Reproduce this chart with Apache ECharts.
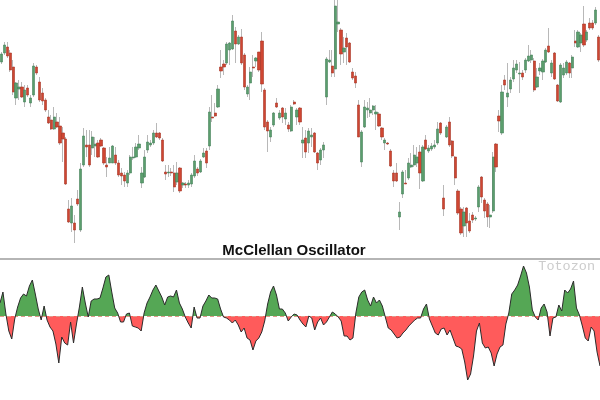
<!DOCTYPE html>
<html>
<head>
<meta charset="utf-8">
<script src="https://cdn.jsdelivr.net/npm/echarts@6/dist/echarts.min.js"></script>
<style>html,body{margin:0;padding:0;background:#fff}#c{width:600px;height:400px}</style>
</head>
<body>
<div id="c"></div>
<script>
const opens = [188,197,203,197,183,152,161,163,148,162,147,155,183,168,157,150,133,130,121,128,124,117,111,41,27,27,51,20,85,105,105,102,104,107,110,102,85,87,87,95,87,77,75,67,77,92,93,102,67,73,100,105,107,117,117,110,78,77,78,77,68,82,65,66,65,66,74,81,78,93,99,104,133,137,143,183,186,187,200,201,219,206,213,195,156,167,183,189,198,209,160,128,113,125,147,132,142,131,125,119,148,133,142,107,112,107,113,117,97,90,100,153,188,184,181,226,220,198,212,207,178,174,145,88,123,140,137,140,136,136,122,107,107,99,77,77,33,56,67,72,83,85,87,98,69,110,99,101,103,107,127,52,113,128,109,93,59,41,24,42,29,35,31,43,73,50,46,33,39,106,134,117,170,153,161,171,180,176,177,180,189,190,189,163,179,178,188,204,177,197,165,148,175,177,187,182,209,203,207,226,210,227,227,227,213];
const closes = [196,205,194,180,158,167,163,153,160,155,152,184,177,150,149,140,127,121,133,123,107,111,66,28,44,20,46,81,114,103,85,113,106,93,104,87,83,92,104,87,75,74,69,77,93,93,103,106,77,93,108,107,117,113,112,89,76,78,77,63,77,59,67,65,67,75,89,77,89,97,87,138,132,134,161,179,183,206,207,229,206,213,187,163,163,178,182,192,180,166,123,119,120,137,143,137,133,137,121,143,146,140,128,110,98,119,115,98,87,100,105,191,190,177,244,228,196,202,203,188,172,167,113,118,143,142,140,144,138,124,113,110,106,84,69,69,38,78,66,87,85,95,93,77,103,101,102,104,105,121,117,41,123,105,94,72,37,17,38,27,19,30,32,63,53,39,33,35,93,83,129,158,165,157,170,182,186,177,173,190,194,195,160,173,182,189,200,198,187,171,149,185,182,188,177,193,207,218,215,205,218,222,222,240,190];
const lows = [186,195,192,178,155,145,150,152,143,153,143,153,175,148,145,138,126,120,120,122,105,88,65,27,18,7,44,18,83,93,83,95,93,92,103,85,73,87,87,85,73,65,63,63,75,90,92,100,62,72,97,103,105,112,110,88,70,73,74,58,65,57,62,62,62,63,72,74,77,92,82,100,128,133,142,172,175,185,185,200,187,205,185,160,153,150,173,183,178,158,120,98,108,123,142,130,127,125,118,118,145,125,125,92,92,97,103,97,80,85,92,145,187,173,173,218,185,187,185,187,170,162,113,83,122,132,133,135,120,123,110,100,105,83,63,68,20,52,66,70,82,83,83,61,68,100,97,99,101,105,115,34,112,103,92,65,35,15,13,13,17,27,29,38,47,32,23,22,37,78,118,115,160,143,157,168,177,157,170,177,188,187,158,162,175,170,187,197,173,170,148,147,172,175,172,172,203,202,198,203,208,220,220,225,188];
const highs = [198,208,208,200,190,168,170,168,165,165,155,187,185,173,162,152,140,135,143,137,133,123,113,50,52,35,60,87,122,120,120,119,113,110,112,103,93,103,105,103,90,82,78,80,95,103,107,115,83,100,115,110,120,127,118,112,85,85,82,85,88,83,68,68,70,77,95,83,91,102,102,143,155,147,165,200,190,208,208,235,223,215,221,197,165,183,195,193,198,218,162,130,123,138,152,140,143,142,128,145,150,142,143,123,120,122,122,118,98,102,108,193,200,200,250,250,222,213,217,208,182,178,150,120,150,148,152,145,145,138,123,112,108,101,80,87,48,80,80,92,97,105,103,105,105,115,105,107,110,128,128,65,125,133,110,94,61,43,43,43,37,38,34,65,74,52,48,45,98,107,140,165,175,187,173,190,190,188,180,192,205,200,192,182,187,191,202,222,190,198,166,187,187,190,188,195,220,220,217,244,220,232,230,243,215];
const oscillator = [13,24,2,-15,-23,-3,9,18,22,20,30,36,22,7,-4,10,-4,-11,-15,-28,-47,-21,-27,-29,-6,-27,-8,9,29,13,-1,15,17,17,18,28,39,41,24,8,3,-6,-6,2,3,-10,-11,-12,-15,3,13,19,26,31,25,19,11,19,20,19,26,13,7,-1,-7,-12,9,-2,-2,10,15,21,18,18,17,7,-1,-2,-4,-7,-4,-9,-16,-12,-22,-24,-34,-25,-22,-16,-5,12,24,30,21,7,7,3,-5,-1,2,1,-4,-8,-11,0,-2,-14,-6,-2,-9,-6,-1,4,2,-1,-5,-20,-20,-24,-22,3,19,24,26,16,10,19,13,16,10,-1,-12,-14,-18,-22,-21,-17,-14,-10,-7,-4,-2,-2,7,12,-3,-10,-17,-19,-13,-12,-19,-14,-22,-30,-31,-33,-46,-64,-58,-40,-15,-7,-27,-32,-31,-37,-50,-38,-31,-29,-8,3,22,26,31,40,50,43,29,6,-1,-4,8,12,4,-20,-2,-1,11,5,26,23,27,35,8,1,-10,-22,-25,-11,-15,-36,-50];
const days = opens.map((_, i) => 'D' + (i + 1));
const titleText = 'McClellan Oscillator';
const watermark = 'Totozon';

const wickData = opens.map((o, i) => [o, closes[i], lows[i], highs[i]]);
const bodyData = opens.map((o, i) => [o, closes[i], Math.min(o, closes[i]), Math.max(o, closes[i])]);

const GREEN_FILL = '#55a755';
const RED_FILL = '#ff5b5b';

const chart = echarts.init(document.getElementById('c'), null, {renderer: 'canvas'});
chart.setOption({
  animation: false,
  backgroundColor: '#ffffff',
  grid: [
    {left: 0, right: 0, top: 0, height: 245},
    {left: 0, right: 0, top: 262, height: 128}
  ],
  xAxis: [
    {type: 'category', gridIndex: 0, data: days, show: false, boundaryGap: true},
    {type: 'category', gridIndex: 1, data: days, show: false, boundaryGap: false}
  ],
  yAxis: [
    {type: 'value', gridIndex: 0, min: 5, max: 250, show: false},
    {type: 'value', gridIndex: 1, min: -74, max: 54, show: false}
  ],
  series: [
    {
      type: 'candlestick', xAxisIndex: 0, yAxisIndex: 0, data: wickData, barWidth: 1,
      itemStyle: {color: '#b8b8b8', color0: '#b8b8b8', borderColor: '#b8b8b8', borderColor0: '#b8b8b8', borderWidth: 1}
    },
    {
      type: 'candlestick', xAxisIndex: 0, yAxisIndex: 0, data: bodyData, barWidth: 2.7,
      itemStyle: {color: '#5b9e6d', color0: '#cf4632', borderColor: '#44805a', borderColor0: '#a83424', borderWidth: 0.6}
    },
    {
      id: 'oscArea', type: 'line', xAxisIndex: 1, yAxisIndex: 1, data: oscillator, symbol: 'none',
      lineStyle: {width: 0}, areaStyle: {opacity: 1, color: GREEN_FILL}, silent: true
    },
    {
      type: 'line', xAxisIndex: 1, yAxisIndex: 1, data: oscillator, symbol: 'none',
      lineStyle: {color: '#2b2b2b', width: 1}, itemStyle: {color: '#2b2b2b'}, z: 5,
      markLine: {
        silent: true, symbol: 'none', label: {show: false},
        lineStyle: {color: '#e09a8a', type: [4, 3], width: 1},
        data: [{yAxis: 0}]
      }
    }
  ],
  graphic: [
    {type: 'line', shape: {x1: 0, y1: 259, x2: 600, y2: 259}, style: {stroke: '#b5b5b5', lineWidth: 2}},
    {type: 'text', x: 294, y: 251, style: {text: titleText, fill: '#111', font: 'bold 15px "Liberation Sans", Arial, sans-serif', textAlign: 'center', textVerticalAlign: 'middle'}},
    {type: 'text', x: 595, y: 266, style: {text: watermark, fill: '#cccccc', font: '13.5px "Liberation Mono", monospace', textAlign: 'right', textVerticalAlign: 'middle'}}
  ]
});

// split the area fill at the zero line, located through the axis itself
const zeroY = chart.convertToPixel({yAxisIndex: 1}, 0);
const topY = chart.convertToPixel({yAxisIndex: 1}, 54);
const botY = chart.convertToPixel({yAxisIndex: 1}, -74);
const split = (zeroY - topY) / (botY - topY);
chart.setOption({
  series: [{
    id: 'oscArea',
    areaStyle: {
      opacity: 1,
      color: new echarts.graphic.LinearGradient(0, topY, 0, botY, [
        {offset: 0, color: GREEN_FILL},
        {offset: split, color: GREEN_FILL},
        {offset: split, color: RED_FILL},
        {offset: 1, color: RED_FILL}
      ], true)
    }
  }]
});
</script>
</body>
</html>
